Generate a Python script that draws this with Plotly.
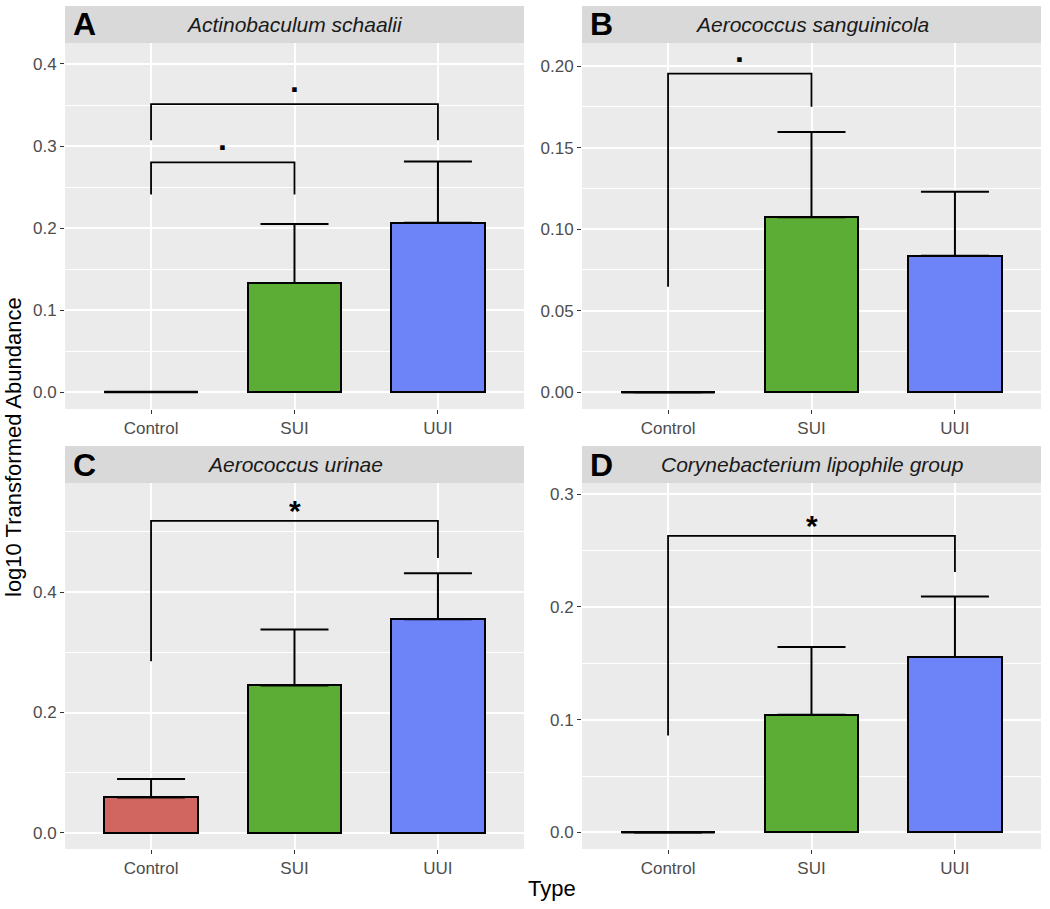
import plotly.graph_objects as go

# ---------------- data ----------------
categories = ["Control", "SUI", "UUI"]
bar_colors = ["#D0665F", "#5BAD35", "#6D84F8"]

panel_letters = ["A", "B", "C", "D"]
panel_titles = ["Actinobaculum schaalii", "Aerococcus sanguinicola",
                "Aerococcus urinae", "Corynebacterium lipophile group"]

mean_A = [0.0, 0.133, 0.2065]
se_A = [0.0, 0.072, 0.0745]
mean_B = [0.0, 0.1073, 0.0837]
se_B = [0.0, 0.0522, 0.0393]
mean_C = [0.059, 0.245, 0.355]
se_C = [0.0306, 0.093, 0.076]
mean_D = [0.0, 0.1043, 0.1555]
se_D = [0.0, 0.060, 0.0537]

# significance brackets: (group1, group2, bracket height, left leg end, right leg end, label)
brackets_A = [("Control", "SUI", 0.280, 0.241, 0.241, "."),
              ("Control", "UUI", 0.351, 0.307, 0.307, ".")]
brackets_B = [("Control", "SUI", 0.1953, 0.0647, 0.175, ".")]
brackets_C = [("Control", "UUI", 0.518, 0.285, 0.4564, "*")]
brackets_D = [("Control", "UUI", 0.263, 0.086, 0.2308, "*")]

yticks_A = [0.0, 0.1, 0.2, 0.3, 0.4]
yticks_B = [0.00, 0.05, 0.10, 0.15, 0.20]
yticks_C = [0.0, 0.2, 0.4]
yticks_D = [0.0, 0.1, 0.2, 0.3]

# ---------------- layout geometry ----------------
W, H = 1050, 909
def px_x(p):
    return p / W
def px_y(p):
    return 1 - p / H

panels = [
    dict(means=mean_A, ses=se_A, brackets=brackets_A, ticks=yticks_A, fmt=".1f",
         minor=0.05, yr=[-0.0207, 0.4256], x=(65, 524), y=(43, 409), strip=(6, 43)),
    dict(means=mean_B, ses=se_B, brackets=brackets_B, ticks=yticks_B, fmt=".2f",
         minor=0.025, yr=[-0.0102, 0.2141], x=(582, 1041), y=(43, 409), strip=(6, 43)),
    dict(means=mean_C, ses=se_C, brackets=brackets_C, ticks=yticks_C, fmt=".1f",
         minor=0.1, yr=[-0.0266, 0.581], x=(65, 524), y=(483, 849), strip=(446, 483)),
    dict(means=mean_D, ses=se_D, brackets=brackets_D, ticks=yticks_D, fmt=".1f",
         minor=0.05, yr=[-0.0147, 0.3098], x=(582, 1041), y=(483, 849), strip=(446, 483)),
]

FONT = "Liberation Sans, Arial, sans-serif"
BAR_W = 0.65
xpos = {c: i + 1 for i, c in enumerate(categories)}

fig = go.Figure()
shapes = []
annotations = []
layout_axes = {}

for k, p in enumerate(panels):
    n = "" if k == 0 else str(k + 1)
    xa, ya = "x" + n, "y" + n
    xs = [xpos[c] for c in categories]

    # bars
    fig.add_trace(go.Bar(
        x=xs, y=p["means"], width=BAR_W, xaxis=xa, yaxis=ya,
        marker=dict(color=bar_colors, line=dict(color="black", width=2)),
        error_y=dict(type="data", symmetric=False, array=p["ses"],
                     arrayminus=[0] * len(xs), color="black", thickness=2, width=34),
        showlegend=False, hoverinfo="skip"))

    # zero-height bars are drawn as flat outlines
    for xv, mv in zip(xs, p["means"]):
        if mv == 0:
            fig.add_trace(go.Scatter(
                x=[xv - BAR_W / 2, xv + BAR_W / 2], y=[mv, mv], mode="lines",
                line=dict(color="black", width=2.4), xaxis=xa, yaxis=ya,
                showlegend=False, hoverinfo="skip"))

    # significance brackets
    for g1, g2, top, l_end, r_end, lab in p["brackets"]:
        x1, x2 = xpos[g1], xpos[g2]
        fig.add_trace(go.Scatter(
            x=[x1, x1, x2, x2], y=[l_end, top, top, r_end], mode="lines",
            line=dict(color="black", width=1.8), xaxis=xa, yaxis=ya,
            showlegend=False, hoverinfo="skip"))
        ysh = 3 if lab == "." else -8
        annotations.append(dict(
            x=(x1 + x2) / 2, y=top, xref=xa, yref=ya, text="<b>%s</b>" % lab,
            showarrow=False, xanchor="center", yanchor="bottom", yshift=ysh,
            font=dict(family=FONT, size=32 if lab == "." else 30, color="black")))

    # axes
    layout_axes["xaxis" + n] = dict(
        domain=[px_x(p["x"][0]), px_x(p["x"][1])], anchor=ya,
        range=[0.4, 3.6], tickvals=xs, ticktext=categories,
        showgrid=True, gridcolor="white", gridwidth=1.6, zeroline=False,
        ticks="outside", ticklen=4, tickwidth=1.4, tickcolor="#333333",
        tickfont=dict(family=FONT, size=17, color="#4D4D4D"), showline=False,
        fixedrange=True)
    layout_axes["yaxis" + n] = dict(
        domain=[px_y(p["y"][1]), px_y(p["y"][0])], anchor=xa,
        range=p["yr"], tickvals=p["ticks"], tickformat=p["fmt"],
        showgrid=True, gridcolor="white", gridwidth=1.6, zeroline=False,
        minor=dict(dtick=p["minor"], tick0=0, showgrid=True, gridcolor="white",
                   gridwidth=0.8, ticks=""),
        ticks="outside", ticklen=4, tickwidth=1.4, tickcolor="#333333",
        tickfont=dict(family=FONT, size=17, color="#4D4D4D"), showline=False,
        fixedrange=True)

    # panel background
    shapes.append(dict(type="rect", xref="paper", yref="paper", layer="below",
                       x0=px_x(p["x"][0]), x1=px_x(p["x"][1]),
                       y0=px_y(p["y"][1]), y1=px_y(p["y"][0]),
                       fillcolor="#EBEBEB", line=dict(width=0)))
    # strip
    shapes.append(dict(type="rect", xref="paper", yref="paper", layer="below",
                       x0=px_x(p["x"][0]), x1=px_x(p["x"][1]),
                       y0=px_y(p["strip"][1]), y1=px_y(p["strip"][0]),
                       fillcolor="#D9D9D9", line=dict(width=0)))
    sy = px_y((p["strip"][0] + p["strip"][1]) / 2)
    annotations.append(dict(
        x=px_x((p["x"][0] + p["x"][1]) / 2), y=sy, xref="paper", yref="paper",
        text="<i>%s</i>" % panel_titles[k], showarrow=False,
        xanchor="center", yanchor="middle",
        font=dict(family=FONT, size=21, color="#1A1A1A")))
    annotations.append(dict(
        x=px_x(p["x"][0] + 6), y=sy, xref="paper", yref="paper",
        text="<b>%s</b>" % panel_letters[k], showarrow=False,
        xanchor="left", yanchor="middle",
        font=dict(family=FONT, size=32, color="black")))

# global axis titles
annotations.append(dict(x=px_x(13), y=px_y(447), xref="paper", yref="paper",
                        text="log10 Transformed Abundance", textangle=-90,
                        showarrow=False, xanchor="center", yanchor="middle",
                        font=dict(family=FONT, size=22, color="black")))
annotations.append(dict(x=px_x(552), y=px_y(888), xref="paper", yref="paper",
                        text="Type", showarrow=False,
                        xanchor="center", yanchor="middle",
                        font=dict(family=FONT, size=22, color="black")))

fig.update_layout(
    width=W, height=H, margin=dict(l=0, r=0, t=0, b=0),
    paper_bgcolor="white", plot_bgcolor="rgba(0,0,0,0)",
    shapes=shapes, annotations=annotations, bargap=0, showlegend=False,
    **layout_axes)

fig.write_html("out.html", config={"displayModeBar": False},
               post_script="document.body.style.margin='0';document.body.style.overflow='hidden';")
